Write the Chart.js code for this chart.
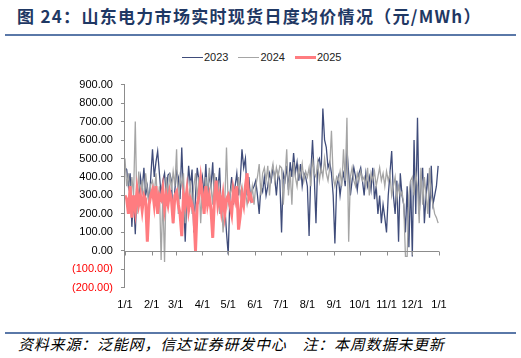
<!DOCTYPE html>
<html>
<head>
<meta charset="utf-8">
<script src="https://cdn.jsdelivr.net/npm/chart.js@4/dist/chart.umd.min.js"></script>
<style>
  body { margin: 0; width: 521px; height: 358px; background: #fff; position: relative; overflow: hidden; }
  #title { position: absolute; left: 17px; top: 3px; font: bold 17px "Noto Sans CJK SC", sans-serif; letter-spacing: 1.3px; color: #1F3864; white-space: nowrap; }
  .rule { position: absolute; left: 5px; width: 511px; height: 2px; background: #5A78A8; }
  #note { position: absolute; left: 18px; top: 333px; font: italic 15px "Noto Sans CJK SC", sans-serif; letter-spacing: 0.8px; color: #000; white-space: nowrap; }
  #legend { position: absolute; left: 182px; top: 50px; height: 14px; display: flex; align-items: center; font: 11px "Liberation Sans", Arial, sans-serif; color: #222; white-space: nowrap; }
  #legend .item { display: flex; align-items: center; margin-right: 10px; }
  #legend .swatch { width: 21px; margin-right: 1px; }
  #box { position: absolute; left: 5px; top: 70px; width: 514px; height: 245px; }
</style>
</head>
<body>
<div id="title">图 24：山东电力市场实时现货日度均价情况（元/MWh）</div>
<div class="rule" style="top:34px"></div>
<div id="legend"></div>
<div id="box"><canvas id="c"></canvas></div>
<div class="rule" style="top:332px"></div>
<div id="note">资料来源：泛能网，信达证券研发中心　注：本周数据未更新</div>
<script>
// 每两天取一个点（x = 序号 * STEP，单位：天）
const STEP = 2;

// 月初位置（天）和标签
const monthDays = [0, 31, 59, 90, 120, 151, 181, 212, 243, 273, 304, 334, 365];
const monthLabels = ["1/1", "2/1", "3/1", "4/1", "5/1", "6/1", "7/1", "8/1", "9/1", "10/1", "11/1", "12/1", "1/1"];

const yTicks = { min: -200, max: 900, step: 100 };

const price2023 = [
  // 1月
  450, 440, 350, 420, 130, 300, 90, 360, 280, 400, 330, 450, 300, 350, 250, 400,
  // 2月
  550, 400, 480, 540, 420, 300, 380, 420, 300, 410, 420, 380, 150, 330,
  // 3月
  430, 400, 280, 560, 300, 50, 300, 460, 350, 440, 100, 300, 450, 380, 330,
  // 4月
  400, 300, 470, 280, 420, 350, 480, 250, 400, 330, 450, 200, 300, 250, 100,
  // 5月
  -20, 300, 400, 250, 350, 420, 300, 380, 550, 450, 500, 300, 400, 280, 330, 350,
  // 6月
  380, 300, 200, 350, 320, 400, 300, 350, 420, 380, 450, 400, 300, 420, 380,
  // 7月
  100, 420, 380, 460, 330, 480, 400, 530, 420, 480, 380, 470, 350, 420, 400,
  // 8月
  350, 80, 420, 600, 400, 150, 480, 500, 420, 770, 600, 560, 450, 480, 420, 300,
  // 9月
  40, 350, 400, 300, 380, 420, 350, 550, 420, 300, 380, 450, 400, 330, 420,
  // 10月
  450, 380, 300, 420, 350, 400, 330, 450, 280, 350, 200, 300, 150, 250, 180,
  // 11月
  100, 300, 420, 540, 300, 200, 380, 50, 420, 300, 250, 100, 350, 20, 380,
  // 12月
  -30, 600, 200, 720, 200, 350, 450, 150, 300, 420, 180, 460, 250, 300, 350, 460
];

const price2024 = [
  500, 350, 420, 280, 400, 300, 700, 200, 430, 300, 380, 250, 420, 330, 250, 360,
  380, 300, 420, 250, 350, -50, 300, -60, 400, 280, 420, 330, 430, 350,
  550, 200, 400, 350, 420, 150, 300, 250, 380, 200, 350, 420, 280, 400, 150,
  350, 250, 400, 300, 450, 350, 250, 420, 300, 380, 200, 300, 100, 250, 560,
  250, 300, 350, 280, 300, 250, 400, 300, 350, 280, 320, 250, 300, 280, 350, 250,
  350, 400, 470, 300, 420, 450, 380, 460, 300, 420, 470, 380, 450, 400, 460,
  450, 250, 400, 550, 300, 430, 250, 480, 400, 350, 450, 400, 470, 380, 430,
  400, 450, 350, 500, 420, 400, 480, 380, 450, 400, 500, 420, 380, 450, 650, 400,
  350, 400, 380, 430, 350, 550, 380, 720, 50, 400, 450, 380, 350, 420, 380,
  430, 380, 400, 350, 450, 300, 420, 380, 430, 350, 400, 450, 380, 420, 350,
  430, 380, 420, 300, 350, 400, 280, 350, 300, 320, 250, -30, -30, 300, 380,
  400, 300, 420, 350, 150, 450, 250, 400, 300, 200, 450, 300, 250, 200, 180, 150
];

const price2025 = [
  300, 280, 200, 350, 180, 300, 220, 330, 250, 300, 220, 300, 280, 50, 250, 300,
  330, 250, 350, 200, 300, 280, 340, 230, 300, 250, 320, 280, 150, 300,
  320, 250, 200, 80, 300, 250, 330, 220, 280, 250, 200, 0, 250, 300, 390,
  300, 200, 350, 250, 300, 220, 70, 280, 380, 250, 300, 220, 300, 200, 280,
  300, 250, 200, 330, 280, 350, 115, 190, 300, 250, 350, 420, 280, 300, 260
];

function toPoints(arr) {
  return arr.map((v, i) => ({ x: i * STEP, y: v }));
}

const datasets = [
  { label: "2023", data: toPoints(price2023), borderColor: "#3F4C7A", borderWidth: 1.3, order: 3 },
  { label: "2024", data: toPoints(price2024), borderColor: "#A5A5A5", borderWidth: 1.3, order: 2 },
  { label: "2025", data: toPoints(price2025), borderColor: "#FF7C80", borderWidth: 3, order: 1 },
];

// 图例
const legend = document.getElementById("legend");
datasets.forEach((ds) => {
  const item = document.createElement("div");
  item.className = "item";
  const sw = document.createElement("div");
  sw.className = "swatch";
  sw.style.height = Math.round(ds.borderWidth) + "px";
  sw.style.background = ds.borderColor;
  const txt = document.createElement("span");
  txt.textContent = ds.label;
  item.appendChild(sw);
  item.appendChild(txt);
  legend.appendChild(item);
});

// 零轴上的月份刻度线
const zeroTicks = {
  id: "zeroTicks",
  afterDatasetsDraw(chart) {
    const ctx = chart.ctx;
    const xs = chart.scales.x;
    const y0 = Math.round(chart.scales.y.getPixelForValue(0)) + 0.5;
    ctx.save();
    ctx.strokeStyle = "#8c8c8c";
    ctx.lineWidth = 1;
    ctx.beginPath();
    ctx.moveTo(xs.left, y0);
    ctx.lineTo(xs.right, y0);
    monthDays.forEach((d) => {
      const x = Math.round(xs.getPixelForValue(d)) + 0.5;
      ctx.moveTo(x, y0);
      ctx.lineTo(x, y0 + 4);
    });
    ctx.stroke();
    ctx.restore();
  },
};

new Chart(document.getElementById("c"), {
  type: "line",
  data: { datasets: datasets },
  options: {
    responsive: true,
    maintainAspectRatio: false,
    animation: false,
    layout: { padding: { left: 59, right: 80, top: 0, bottom: 0 } },
    elements: { point: { radius: 0 }, line: { tension: 0 } },
    plugins: {
      legend: { display: false },
      tooltip: { enabled: false },
    },
    scales: {
      x: {
        type: "linear",
        min: 0,
        max: 365,
        afterBuildTicks(axis) {
          axis.ticks = monthDays.map((d) => ({ value: d }));
        },
        ticks: {
          autoSkip: false,
          maxRotation: 0,
          color: "#000",
          font: { family: "Liberation Sans", size: 11 },
          callback: (v, i) => monthLabels[i],
        },
        grid: { display: false },
        border: { display: false },
      },
      y: {
        min: yTicks.min,
        max: yTicks.max,
        ticks: {
          stepSize: yTicks.step,
          padding: 8,
          color: (c) => (c.tick.value < 0 ? "#FF0000" : "#000"),
          font: { family: "Liberation Sans", size: 11 },
          callback: (v) => (v < 0 ? "(" + Math.abs(v).toFixed(2) + ")" : v.toFixed(2)),
        },
        grid: { drawOnChartArea: false, tickLength: 4, tickColor: "#8c8c8c" },
        border: { display: true, color: "#8c8c8c" },
      },
    },
  },
  plugins: [zeroTicks],
});
</script>
</body>
</html>
